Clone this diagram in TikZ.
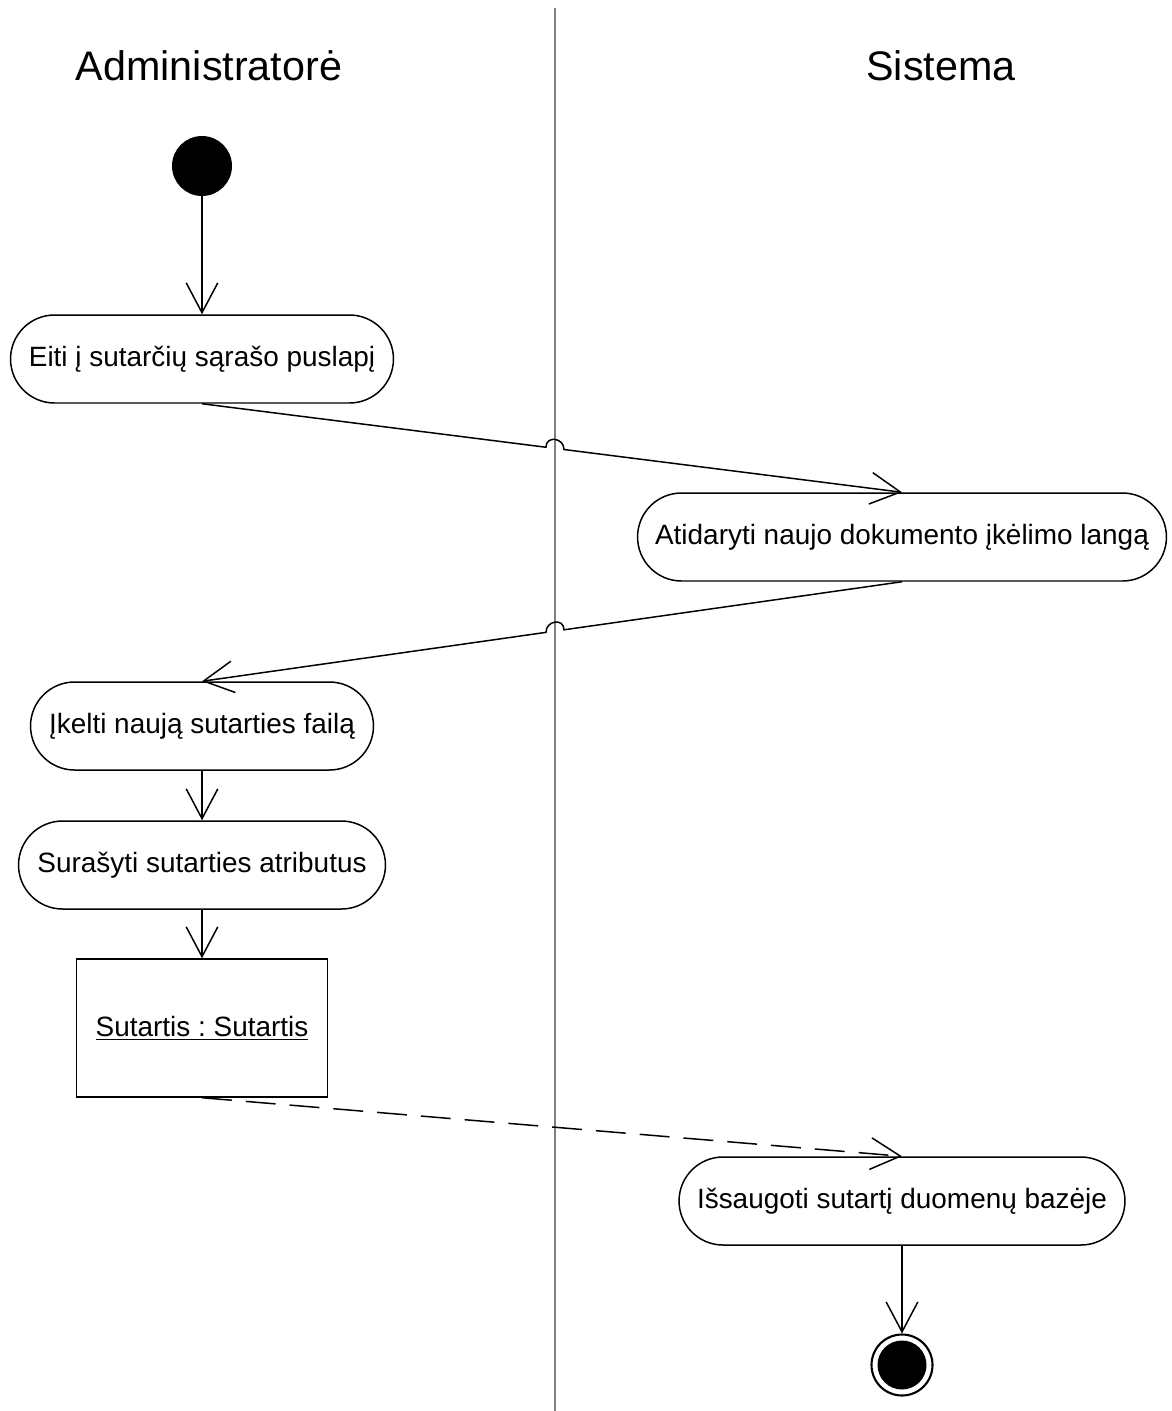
\documentclass[tikz,border=0pt]{standalone}
\usepackage{fontspec}
\setmainfont{Liberation Sans}
\usetikzlibrary{arrows.meta,calc}
\begin{document}
\frenchspacing
\begin{tikzpicture}[x=0.02cm,y=-0.02cm,
  flow/.style={draw=black,line width=0.85pt,-{Straight Barb[length=17pt,width=18pt,line width=0.85pt]}},
  action/.style={draw=black,line width=0.85pt,rectangle,rounded corners=0.88cm,minimum height=1.76cm,inner sep=0pt,font=\fontsize{15.9}{19}\selectfont},
  objbox/.style={draw=black,line width=0.85pt,rectangle,minimum width=5.02cm,minimum height=2.76cm,inner sep=0pt,font=\fontsize{15.9}{19}\selectfont},
  lanetitle/.style={font=\fontsize{23.5}{28}\selectfont,inner sep=0pt},
  lane/.style={draw=black!50,line width=0.9pt}]
\useasboundingbox (0,0) rectangle (1172,1411);

% swimlane divider and headings
\draw[lane] (555,8) -- (555,1411);
\node[lanetitle] (hadm) at (209,66) {Administratorė};
\node[lanetitle] (hsys) at (941,66) {Sistema};

% nodes
\node[circle,fill=black,minimum size=1.2cm,inner sep=0pt] (start) at (202,166) {};
\node[action,minimum width=7.66cm] (a1) at (202,359) {Eiti į sutarčių sąrašo puslapį};
\node[action,minimum width=10.58cm] (a2) at (902,537) {Atidaryti naujo dokumento įkėlimo langą};
\node[action,minimum width=6.86cm] (a3) at (202,726) {Įkelti naują sutarties failą};
\node[action,minimum width=7.34cm] (a4) at (202,865) {Surašyti sutarties atributus};
\node[objbox] (obj) at (202,1028) {\underline{Sutartis : Sutartis}};
\node[action,minimum width=8.92cm] (a5) at (902,1201) {Išsaugoti sutartį duomenų bazėje};
\node[circle,draw=black,line width=1.2pt,minimum size=1.22cm,inner sep=0pt] (fin) at (902,1365) {};
\node[circle,fill=black,minimum size=0.98cm,inner sep=0pt] (finin) at (fin) {};

% connectors (with line jumps over the lane divider)
\draw[flow] (start) -- (a1);

\path (a1.south) -- (a2.north) coordinate[pos=0.4914] (j1s) coordinate[pos=0.5171] (j1e);
\draw[flow] (a1.south) -- (j1s) .. controls +(0,-12) and +(0,-12) .. (j1e) -- (a2.north);

\path (a2.north) -- (a2.south) coordinate[pos=1] (a2b);
\path (a2b) -- (a3.north) coordinate[pos=0.4829] (j2s) coordinate[pos=0.5086] (j2e);
\draw[flow] (a2b) -- (j2s) .. controls +(0,-12) and +(0,-12) .. (j2e) -- (a3.north);

\draw[flow] (a3) -- (a4);
\draw[flow] (a4) -- (obj);
\draw[flow,dash pattern=on 17pt off 8pt] (obj.south) -- (a5.north);
\draw[flow] (a5) -- (fin);
\end{tikzpicture}
\end{document}
